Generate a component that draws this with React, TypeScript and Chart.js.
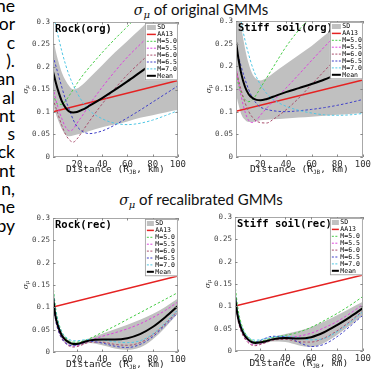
import React, { useEffect, useRef } from "react";
import { Chart, registerables } from "chart.js";
Chart.register(...registerables);

// ---------- data ----------
const DIST = [1, 3, 5, 8, 11, 14, 17, 20, 25, 30, 40, 50, 60, 70, 80, 90, 100];
const AA13_DIST = [1, 100];
const AA13 = [0.1007, 0.17];
const Y_TICKS = [0, 0.05, 0.1, 0.15, 0.2, 0.25, 0.3];
const X_TICKS = [20, 40, 60, 80, 100];
const LEGEND_LABELS = ["SD", "AA13", "M=5.0", "M=5.5", "M=6.0", "M=6.5", "M=7.0", "Mean"];
const PANEL_TITLES = ["Rock(org)", "Stiff soil(org)", "Rock(rec)", "Stiff soil(rec)"];
const LEFT_TEXT = ["ne", "or", "c", ").", "an", "al", "nt", "s", "ck", "nt", "n,", "ne", "by"];

const ROCK_ORG_MEAN = [0.19, 0.168, 0.148, 0.124, 0.109, 0.101, 0.099, 0.1, 0.106, 0.114, 0.131, 0.149, 0.168, 0.188, 0.208, 0.228, 0.248];
const ROCK_ORG_UPPER = [0.265, 0.238, 0.215, 0.188, 0.17, 0.157, 0.15, 0.152, 0.162, 0.176, 0.204, 0.232, 0.258, 0.284, 0.31, 0.335, 0.36];
const ROCK_ORG_LOWER = [0.115, 0.098, 0.082, 0.062, 0.049, 0.046, 0.048, 0.05, 0.054, 0.058, 0.066, 0.072, 0.079, 0.087, 0.093, 0.099, 0.105];
const ROCK_ORG_M50 = [0.14, 0.125, 0.117, 0.117, 0.125, 0.137, 0.15, 0.163, 0.183, 0.2, 0.232, 0.262, 0.29, 0.318, 0.345, 0.37, 0.395];
const ROCK_ORG_M55 = [0.155, 0.13, 0.11, 0.085, 0.066, 0.058, 0.062, 0.075, 0.095, 0.117, 0.155, 0.19, 0.222, 0.25, 0.277, 0.3, 0.322];
const ROCK_ORG_M60 = [0.13, 0.112, 0.095, 0.07, 0.05, 0.038, 0.033, 0.04, 0.06, 0.08, 0.118, 0.152, 0.183, 0.21, 0.235, 0.258, 0.28];
const ROCK_ORG_M65 = [0.225, 0.205, 0.185, 0.155, 0.127, 0.105, 0.083, 0.068, 0.056, 0.052, 0.058, 0.071, 0.087, 0.104, 0.122, 0.14, 0.158];
const ROCK_ORG_M70 = [0.32, 0.295, 0.27, 0.235, 0.205, 0.18, 0.16, 0.143, 0.12, 0.103, 0.085, 0.075, 0.072, 0.075, 0.082, 0.092, 0.103];

const SOIL_ORG_MEAN = [0.255, 0.215, 0.185, 0.155, 0.138, 0.13, 0.126, 0.125, 0.128, 0.133, 0.143, 0.152, 0.161, 0.171, 0.183, 0.196, 0.21];
const SOIL_ORG_UPPER = [0.37, 0.33, 0.29, 0.24, 0.205, 0.182, 0.172, 0.169, 0.175, 0.185, 0.205, 0.225, 0.245, 0.268, 0.29, 0.31, 0.33];
const SOIL_ORG_LOWER = [0.14, 0.115, 0.095, 0.082, 0.077, 0.077, 0.079, 0.081, 0.082, 0.083, 0.085, 0.087, 0.089, 0.091, 0.093, 0.095, 0.097];
const SOIL_ORG_M50 = [0.185, 0.16, 0.142, 0.127, 0.122, 0.127, 0.138, 0.152, 0.175, 0.198, 0.243, 0.28, 0.31, 0.34, 0.37, 0.4, 0.43];
const SOIL_ORG_M55 = [0.2, 0.165, 0.135, 0.1, 0.08, 0.076, 0.081, 0.092, 0.108, 0.123, 0.152, 0.182, 0.213, 0.243, 0.272, 0.298, 0.323];
const SOIL_ORG_M60 = [0.195, 0.17, 0.148, 0.12, 0.1, 0.087, 0.079, 0.076, 0.075, 0.083, 0.104, 0.13, 0.16, 0.19, 0.22, 0.25, 0.28];
const SOIL_ORG_M65 = [0.245, 0.222, 0.2, 0.172, 0.148, 0.13, 0.118, 0.11, 0.105, 0.102, 0.1, 0.102, 0.105, 0.109, 0.114, 0.12, 0.127];
const SOIL_ORG_M70 = [0.38, 0.34, 0.3, 0.258, 0.225, 0.197, 0.176, 0.16, 0.14, 0.127, 0.112, 0.103, 0.097, 0.093, 0.092, 0.093, 0.096];

const ROCK_REC_MEAN = [0.125, 0.08, 0.058, 0.037, 0.027, 0.021, 0.018, 0.018, 0.022, 0.026, 0.028, 0.028, 0.031, 0.04, 0.056, 0.078, 0.103];
const ROCK_REC_UPPER = [0.13, 0.088, 0.065, 0.043, 0.032, 0.025, 0.022, 0.022, 0.026, 0.031, 0.041, 0.051, 0.061, 0.072, 0.085, 0.101, 0.12];
const ROCK_REC_LOWER = [0.12, 0.072, 0.051, 0.031, 0.021, 0.016, 0.014, 0.014, 0.017, 0.02, 0.015, 0.008, 0.005, 0.01, 0.028, 0.055, 0.086];
const ROCK_REC_M50 = [0.15, 0.1, 0.07, 0.045, 0.032, 0.025, 0.022, 0.022, 0.025, 0.03, 0.044, 0.058, 0.073, 0.088, 0.103, 0.118, 0.133];
const ROCK_REC_M55 = [0.118, 0.075, 0.052, 0.032, 0.021, 0.015, 0.013, 0.014, 0.019, 0.025, 0.035, 0.043, 0.052, 0.063, 0.077, 0.093, 0.112];
const ROCK_REC_M60 = [0.117, 0.073, 0.05, 0.03, 0.019, 0.013, 0.011, 0.012, 0.017, 0.022, 0.022, 0.017, 0.015, 0.021, 0.038, 0.063, 0.093];
const ROCK_REC_M65 = [0.116, 0.072, 0.05, 0.03, 0.02, 0.015, 0.014, 0.016, 0.021, 0.024, 0.02, 0.013, 0.01, 0.017, 0.034, 0.06, 0.088];
const ROCK_REC_M70 = [0.14, 0.095, 0.068, 0.045, 0.034, 0.028, 0.025, 0.025, 0.027, 0.028, 0.027, 0.023, 0.021, 0.025, 0.04, 0.065, 0.095];

const SOIL_REC_MEAN = [0.122, 0.08, 0.057, 0.037, 0.026, 0.02, 0.018, 0.019, 0.022, 0.026, 0.029, 0.028, 0.031, 0.042, 0.058, 0.076, 0.096];
const SOIL_REC_UPPER = [0.127, 0.086, 0.063, 0.042, 0.03, 0.024, 0.022, 0.023, 0.026, 0.031, 0.038, 0.045, 0.054, 0.066, 0.08, 0.095, 0.11];
const SOIL_REC_LOWER = [0.117, 0.074, 0.051, 0.032, 0.022, 0.016, 0.014, 0.015, 0.018, 0.021, 0.02, 0.013, 0.009, 0.018, 0.036, 0.057, 0.08];
const SOIL_REC_M50 = [0.15, 0.1, 0.07, 0.045, 0.031, 0.024, 0.021, 0.022, 0.025, 0.03, 0.035, 0.042, 0.053, 0.068, 0.084, 0.102, 0.122];
const SOIL_REC_M55 = [0.118, 0.075, 0.052, 0.032, 0.021, 0.015, 0.013, 0.015, 0.02, 0.026, 0.03, 0.033, 0.04, 0.052, 0.066, 0.084, 0.104];
const SOIL_REC_M60 = [0.117, 0.073, 0.05, 0.03, 0.019, 0.013, 0.012, 0.014, 0.019, 0.024, 0.026, 0.021, 0.02, 0.029, 0.045, 0.066, 0.09];
const SOIL_REC_M65 = [0.12, 0.078, 0.055, 0.035, 0.025, 0.02, 0.02, 0.023, 0.029, 0.033, 0.032, 0.02, 0.01, 0.015, 0.032, 0.055, 0.08];
const SOIL_REC_M70 = [0.135, 0.09, 0.065, 0.043, 0.032, 0.026, 0.024, 0.025, 0.028, 0.031, 0.033, 0.03, 0.025, 0.028, 0.043, 0.064, 0.088];

// ---------- styles ----------
const MONO = "'DejaVu Sans Mono', monospace";
const SD_GRAY = "#c0c0c0";
const RED = "#e52222";
const M_COLORS = ["#46cc46", "#dd44dd", "#a84d6c", "#3f3fc8", "#4fc6e4"];

type Panel = {
  title: string;
  area: { l: number; t: number; r: number; b: number };
  mean: number[]; upper: number[]; lower: number[]; ms: number[][];
  symLen: number;
};

const PANELS: Panel[] = [
  { title: PANEL_TITLES[0], area: { l: 53, t: 22, r: 184, b: 157 }, mean: ROCK_ORG_MEAN, upper: ROCK_ORG_UPPER, lower: ROCK_ORG_LOWER, ms: [ROCK_ORG_M50, ROCK_ORG_M55, ROCK_ORG_M60, ROCK_ORG_M65, ROCK_ORG_M70], symLen: 9 },
  { title: PANEL_TITLES[1], area: { l: 236, t: 21, r: 369, b: 157 }, mean: SOIL_ORG_MEAN, upper: SOIL_ORG_UPPER, lower: SOIL_ORG_LOWER, ms: [SOIL_ORG_M50, SOIL_ORG_M55, SOIL_ORG_M60, SOIL_ORG_M65, SOIL_ORG_M70], symLen: 9 },
  { title: PANEL_TITLES[2], area: { l: 53, t: 218, r: 184, b: 352 }, mean: ROCK_REC_MEAN, upper: ROCK_REC_UPPER, lower: ROCK_REC_LOWER, ms: [ROCK_REC_M50, ROCK_REC_M55, ROCK_REC_M60, ROCK_REC_M65, ROCK_REC_M70], symLen: 7 },
  { title: PANEL_TITLES[3], area: { l: 235, t: 217, r: 369, b: 351 }, mean: SOIL_REC_MEAN, upper: SOIL_REC_UPPER, lower: SOIL_REC_LOWER, ms: [SOIL_REC_M50, SOIL_REC_M55, SOIL_REC_M60, SOIL_REC_M65, SOIL_REC_M70], symLen: 7 },
];

const PAD_L = 37, PAD_R = 4, PAD_T = 8, PAD_B = 26;

function makeChart(canvas: HTMLCanvasElement, p: Panel) {
  const pts = (ys: number[]) => DIST.map((x, i) => ({ x, y: ys[i] }));
  const datasets: any[] = [
    { label: "Mean", data: pts(p.mean), borderColor: "#000", borderWidth: 2, order: 0 },
  ];
  for (let k = 4; k >= 0; k--) {
    datasets.push({ label: LEGEND_LABELS[2 + k], data: pts(p.ms[k]), borderColor: M_COLORS[k], borderWidth: 1, borderDash: [2.5, 2], order: 1 + (4 - k) });
  }
  datasets.push({ label: "AA13", data: AA13_DIST.map((x, i) => ({ x, y: AA13[i] })), borderColor: RED, borderWidth: 1.5, order: 6, cubicInterpolationMode: "default", tension: 0 });
  datasets.push({ label: "SD", data: pts(p.upper), borderColor: "rgba(0,0,0,0)", borderWidth: 1, fill: "+1", backgroundColor: SD_GRAY, order: 7 });
  datasets.push({ label: "SDlow", data: pts(p.lower), borderColor: "rgba(0,0,0,0)", borderWidth: 1, fill: false, order: 8 });

  const legendStyles = [
    { kind: "box", color: SD_GRAY },
    { kind: "line", color: RED, w: 1.5, dash: [] },
    ...M_COLORS.map((c) => ({ kind: "line", color: c, w: 1, dash: [2, 1.5] })),
    { kind: "line", color: "#000", w: 2, dash: [] },
  ];

  const decor = {
    id: "decor",
    afterDraw(chart: any) {
      const ctx = chart.ctx as CanvasRenderingContext2D;
      const ca = chart.chartArea;
      const xs = chart.scales.x, ys = chart.scales.y;
      ctx.save();
      // box
      ctx.strokeStyle = "#a8a8a8";
      ctx.lineWidth = 1;
      ctx.setLineDash([]);
      ctx.strokeRect(Math.round(ca.left) + 0.5, Math.round(ca.top) + 0.5, Math.round(ca.right - ca.left) - 1, Math.round(ca.bottom - ca.top) - 1);
      // inward ticks
      ctx.strokeStyle = "#888";
      ctx.beginPath();
      Y_TICKS.forEach((v) => {
        const y = Math.round(ys.getPixelForValue(v)) + 0.5;
        ctx.moveTo(ca.left, y); ctx.lineTo(ca.left + 2.5, y);
        ctx.moveTo(ca.right, y); ctx.lineTo(ca.right - 2.5, y);
      });
      X_TICKS.forEach((v) => {
        const x = Math.round(xs.getPixelForValue(v)) + 0.5;
        ctx.moveTo(x, ca.bottom); ctx.lineTo(x, ca.bottom - 2.5);
        ctx.moveTo(x, ca.top); ctx.lineTo(x, ca.top + 2.5);
      });
      ctx.stroke();
      // panel title
      ctx.fillStyle = "#000";
      ctx.font = `bold 10.5px ${MONO}`;
      ctx.textAlign = "left";
      ctx.textBaseline = "alphabetic";
      ctx.fillText(p.title, ca.left + 2, ca.top + 10);
      // legend
      const LW = 33, rowH = 6.9;
      const lx = ca.right - LW, ly = ca.top + 1;
      const LH = rowH * 7 + 9;
      ctx.fillStyle = "#fff";
      ctx.fillRect(lx, ly, LW, LH);
      ctx.strokeStyle = "#9a9a9a";
      ctx.lineWidth = 0.8;
      ctx.strokeRect(lx + 0.5, ly + 0.5, LW - 1, LH - 1);
      ctx.font = `6.5px ${MONO}`;
      ctx.textBaseline = "middle";
      LEGEND_LABELS.forEach((lab, i) => {
        const cy = ly + 4.5 + i * rowH;
        const st: any = legendStyles[i];
        const sx = lx + 2;
        if (st.kind === "box") {
          ctx.fillStyle = st.color;
          ctx.fillRect(sx, cy - 2.5, p.symLen, 5);
        } else {
          ctx.strokeStyle = st.color;
          ctx.lineWidth = st.w;
          ctx.setLineDash(st.dash);
          ctx.beginPath();
          ctx.moveTo(sx, cy); ctx.lineTo(sx + p.symLen, cy);
          ctx.stroke();
          ctx.setLineDash([]);
        }
        ctx.fillStyle = "#000";
        ctx.fillText(lab, sx + p.symLen + 1.5, cy + 0.3);
      });
      // x axis title with subscript
      const main1 = "Distance (R", sub = "JB", main2 = ", km)";
      ctx.font = `9.5px ${MONO}`;
      const w1 = ctx.measureText(main1).width, w3 = ctx.measureText(main2).width;
      ctx.font = `6px ${MONO}`;
      const w2 = ctx.measureText(sub).width;
      const total = w1 + w2 + w3;
      let tx = (ca.left + ca.right) / 2 - total / 2;
      const ty = ca.bottom + 13;
      ctx.fillStyle = "#222";
      ctx.textAlign = "left";
      ctx.textBaseline = "middle";
      ctx.font = `9.5px ${MONO}`;
      ctx.fillText(main1, tx, ty); tx += w1;
      ctx.font = `6px ${MONO}`;
      ctx.fillText(sub, tx, ty + 2.5); tx += w2;
      ctx.font = `9.5px ${MONO}`;
      ctx.fillText(main2, tx, ty);
      // y axis title
      ctx.translate(ca.left - 27, (ca.top + ca.bottom) / 2);
      ctx.rotate(-Math.PI / 2);
      ctx.font = `italic 8px 'DejaVu Serif', serif`;
      ctx.fillStyle = "#333";
      ctx.textAlign = "center";
      ctx.fillText("σ", -1.5, 0);
      ctx.font = `italic 5.5px 'DejaVu Serif', serif`;
      ctx.fillText("μ", 2.5, 2);
      ctx.restore();
    },
  };

  return new Chart(canvas, {
    type: "line",
    data: { datasets },
    options: {
      responsive: false,
      animation: false,
      devicePixelRatio: 1,
      layout: { padding: { left: 0, right: PAD_R, top: PAD_T, bottom: 0 } },
      elements: { point: { radius: 0 }, line: { cubicInterpolationMode: "monotone" } },
      plugins: { legend: { display: false }, tooltip: { enabled: false }, title: { display: false } },
      scales: {
        x: {
          type: "linear", min: 1, max: 100,
          grid: { display: false, drawTicks: false }, border: { display: false },
          ticks: { padding: 2, autoSkip: false, maxRotation: 0, color: "#333", font: { family: MONO, size: 9 } },
          afterBuildTicks: (s: any) => { s.ticks = X_TICKS.map((v) => ({ value: v })); },
          afterFit: (s: any) => { s.height = PAD_B; },
        },
        y: {
          type: "linear", min: 0, max: 0.3,
          grid: { display: false, drawTicks: false }, border: { display: false },
          ticks: { padding: 3, color: "#444", font: { family: MONO, size: 7.5 }, callback: (v: any) => String(Number(Number(v).toFixed(2))) },
          afterBuildTicks: (s: any) => { s.ticks = Y_TICKS.map((v) => ({ value: v })); },
          afterFit: (s: any) => { s.width = PAD_L; },
        },
      },
    } as any,
    plugins: [decor],
  });
}

function PanelChart({ p }: { p: Panel }) {
  const ref = useRef<HTMLCanvasElement>(null);
  const w = p.area.r - p.area.l + PAD_L + PAD_R;
  const h = p.area.b - p.area.t + PAD_T + PAD_B;
  useEffect(() => {
    const c = makeChart(ref.current!, p);
    return () => c.destroy();
  }, [p]);
  return (
    <canvas
      ref={ref}
      width={w}
      height={h}
      style={{ position: "absolute", left: p.area.l - PAD_L, top: p.area.t - PAD_T, width: w, height: h }}
    />
  );
}

function Title({ text, top }: { text: string; top: number }) {
  return (
    <div style={{ position: "absolute", left: 0, width: 402, top, textAlign: "center", fontFamily: "Lato, 'Noto Sans', sans-serif", fontSize: 15, lineHeight: "15px", color: "#111", whiteSpace: "nowrap" }}>
      <i style={{ fontFamily: "'DejaVu Serif', serif", fontSize: 14 }}>σ</i>
      <sub style={{ fontFamily: "'DejaVu Serif', serif", fontStyle: "italic", fontSize: 10, lineHeight: 0, verticalAlign: "-3px" }}>μ</sub>
      {" " + text}
    </div>
  );
}

export default function App() {
  return (
    <div style={{ position: "absolute", left: 0, top: 0, width: 385, height: 375, background: "#fff", overflow: "hidden" }}>
      <div style={{ position: "absolute", left: 0, top: 0, width: 15, height: 250 }}>
        {LEFT_TEXT.map((t, i) => (
          <div key={i} style={{ position: "absolute", right: 0, top: -3 + i * 18.3, fontFamily: "Lato, 'Noto Sans', sans-serif", fontSize: 17.5, lineHeight: "18.3px", color: "#000", whiteSpace: "nowrap" }}>{t}</div>
        ))}
      </div>
      <Title text="of original GMMs" top={2} />
      <Title text="of recalibrated GMMs" top={192} />
      {PANELS.map((p, i) => <PanelChart key={i} p={p} />)}
    </div>
  );
}
